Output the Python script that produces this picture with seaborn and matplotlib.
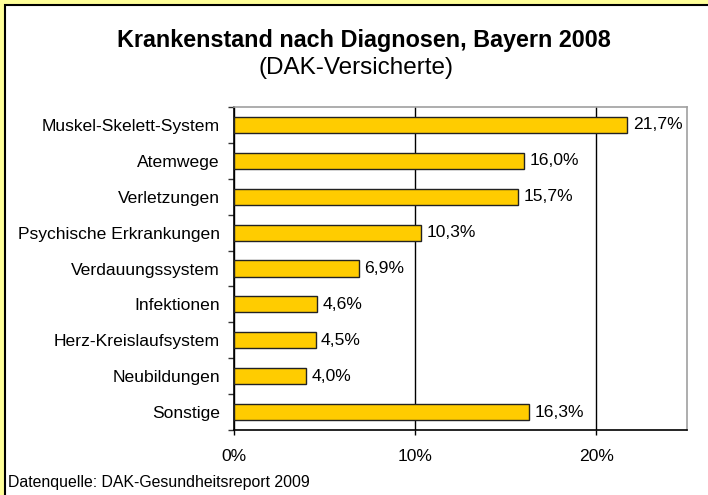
import matplotlib
matplotlib.use("Agg")
import matplotlib.pyplot as plt
import seaborn as sns
import pandas as pd
from matplotlib.patches import Rectangle
from matplotlib.ticker import FixedLocator, FuncFormatter

categories = ["Muskel-Skelett-System", "Atemwege", "Verletzungen",
              "Psychische Erkrankungen", "Verdauungssystem", "Infektionen",
              "Herz-Kreislaufsystem", "Neubildungen", "Sonstige"]
values = [21.7, 16.0, 15.7, 10.3, 6.9, 4.6, 4.5, 4.0, 16.3]
x_ticks = [0, 10, 20]

title = "Krankenstand nach Diagnosen, Bayern 2008"
subtitle = "(DAK-Versicherte)"
source = "Datenquelle: DAK-Gesundheitsreport 2009"

sns.set_theme(style="white")
plt.rcParams['font.family'] = ['Liberation Sans', 'DejaVu Sans']

W, H = 708, 495
fig = plt.figure(figsize=(W / 100, H / 100), dpi=100, facecolor="#FFFF99")
fig.patches.append(Rectangle((5 / W, -0.1), 1.2, (H - 5) / H + 0.1,
                             transform=fig.transFigure, facecolor="white",
                             edgecolor="black", linewidth=1.5, zorder=-5))

ax = fig.add_axes([234 / W, 1 - 430 / H, (687 - 234) / W, (430 - 107) / H])
ax.set_zorder(2)
ax.set_facecolor("white")

df = pd.DataFrame({"cat": categories, "val": values})
sns.barplot(data=df, x="val", y="cat", orient="h", color="#FFCC00",
            saturation=1, edgecolor="#222222", linewidth=1, width=0.45, ax=ax,
            zorder=3)

ax.set_xlim(0, 25)
ax.set_ylim(len(categories) - 0.5, -0.5)
ax.set_xlabel("")
ax.set_ylabel("")

ax.xaxis.set_major_locator(FixedLocator(x_ticks))
ax.xaxis.set_major_formatter(FuncFormatter(lambda v, p: f"{int(v)}%"))
ax.grid(axis="x", color="black", linewidth=1, zorder=1)
ax.set_axisbelow(True)

ax.tick_params(axis="x", which="major", direction="out", length=3.6, width=1,
               color="black", labelsize=12.6, labelcolor="black", pad=10.4,
               bottom=True, top=False)
ax.tick_params(axis="y", which="major", length=0, labelsize=12.6,
               labelcolor="black", pad=10.1)
ax.yaxis.set_minor_locator(FixedLocator([i - 0.5 for i in range(len(categories) + 1)]))
ax.tick_params(axis="y", which="minor", direction="out", length=4, width=1,
               color="#333333", left=True, right=False)

for s in ["left", "bottom"]:
    ax.spines[s].set_color("black")
    ax.spines[s].set_linewidth(1.2)
for s in ["top", "right"]:
    ax.spines[s].set_color("#A0A0A0")
    ax.spines[s].set_linewidth(1.2)

labels = [f"{v:.1f}".replace(".", ",") + "%" for v in values]
ax.bar_label(ax.containers[0], labels=labels, padding=4, fontsize=12.6,
             color="black")

fig.text(364 / W, 1 - 40 / H, title, ha="center", va="center",
         fontsize=16.8, fontweight="bold", color="black")
fig.text(356 / W, 1 - 68 / H, subtitle, ha="center", va="center",
         fontsize=17.5, color="black")
fig.text(8 / W, 1 - 483 / H, source, ha="left", va="center",
         fontsize=11.4, color="black")

fig.savefig("out.png", dpi=100, facecolor=fig.get_facecolor())
